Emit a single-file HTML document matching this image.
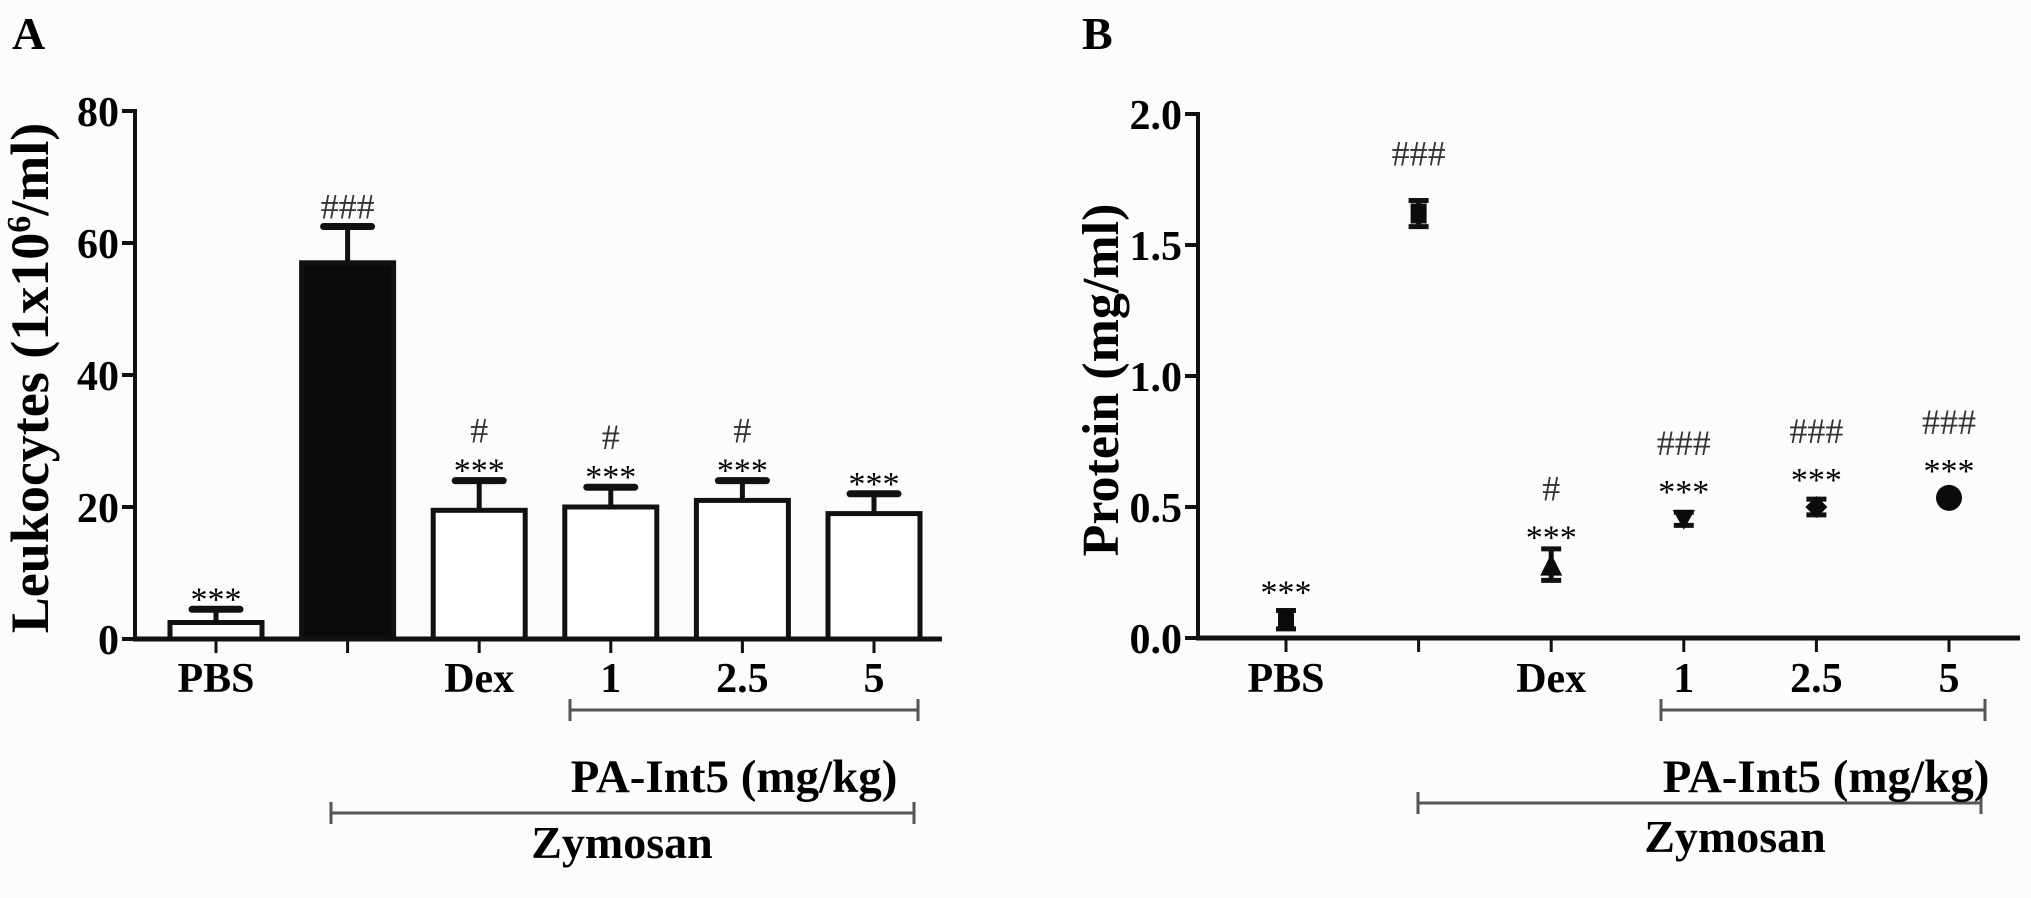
<!DOCTYPE html>
<html><head><meta charset="utf-8"><style>
html,body{margin:0;padding:0;background:#fcfcfc;}
svg{display:block;font-family:"Liberation Serif",serif;}
</style></head><body>
<svg id="fig" width="2031" height="898" viewBox="0 0 2031 898" xmlns="http://www.w3.org/2000/svg">
<rect width="2031" height="898" fill="#fcfcfc"/>
<text x="12" y="49" font-size="46" font-weight="bold">A</text>
<text x="1082" y="49" font-size="46" font-weight="bold">B</text>
<g id="chartA"></g>
<g id="chartB"></g>
</svg>
<script>
const catsA = ["PBS", "", "Dex", "1", "2.5", "5"];
const valsA = [2.5, 57, 19.5, 20, 21, 19];
const errA = [2, 5.5, 4.5, 3, 3, 3];
const starsA = ["***", "", "***", "***", "***", "***"];
const hashA = ["", "###", "#", "#", "#", ""];
const ticksA = [0, 20, 40, 60, 80];

const catsB = ["PBS", "", "Dex", "1", "2.5", "5"];
const valsB = [0.07, 1.62, 0.28, 0.455, 0.50, 0.535];
const errB = [0.035, 0.05, 0.06, 0.025, 0.03, 0.015];
const markersB = ["square", "square", "triangle", "invtriangle", "diamond", "circle"];
const starsB = ["***", "", "***", "***", "***", "***"];
const hashB = ["", "###", "#", "###", "###", "###"];
const ticksB = [0, 0.5, 1.0, 1.5, 2.0];

const NS = "http://www.w3.org/2000/svg";
function mk(parent, tag, attrs, text) {
  const e = document.createElementNS(NS, tag);
  for (const k in attrs) e.setAttribute(k, attrs[k]);
  if (text !== undefined) e.textContent = text;
  parent.appendChild(e);
  return e;
}

// ---------- Chart A ----------
(function(){
  const g = document.getElementById('chartA');
  const x0 = 135, yTop = 111, yBot = 639, xEnd = 942;
  const yScale = v => yBot - (v / 80) * (yBot - yTop);
  const xFirst = 216, step = 131.6;
  const xScale = i => xFirst + i * step;
  const bw = 92;
  let e;
  e = mk(g, 'line', {x1:x0, y1:yTop-2, x2:x0, y2:yBot+2, stroke:'#111', 'stroke-width':4});
  
  
  ticksA.forEach(t => {
    const y = yScale(t);
    e = mk(g, 'line', {x1:x0-13, y1:y, x2:x0, y2:y, stroke:'#111', 'stroke-width':4});
    
    
    e = mk(g, 'text', {x:x0-16, y:y+15, 'font-size':42, 'font-weight':'bold', 'text-anchor':'end'}, String(t));
    
    
  });
  e = mk(g, 'text', {transform:'translate(48,378) rotate(-90)', 'font-size':54, 'font-weight':'bold', 'text-anchor':'middle'});
  
  
  e.innerHTML = 'Leukocytes (1x10<tspan dy="-18" font-size="34">6</tspan><tspan dy="18">/ml)</tspan>';
  valsA.forEach((v, i) => {
    const cx = xScale(i), yv = yScale(v), ye = yScale(v + errA[i]);
    e = mk(g, 'line', {x1:cx, y1:yv, x2:cx, y2:ye, stroke:'#111', 'stroke-width':5});
    
    
    e = mk(g, 'line', {x1:cx-24, y1:ye, x2:cx+24, y2:ye, stroke:'#111', 'stroke-width':7, 'stroke-linecap':'round'});
    
    
    const filled = i === 1;
    e = mk(g, 'rect', {x:cx-bw/2, y:yv, width:bw, height:yBot-yv, fill: filled ? '#0b0b0b' : '#fff', stroke:'#111', 'stroke-width':5});
    
    
    if (starsA[i]) {
      e = mk(g, 'text', {x:cx, y:ye+1, 'font-size':34, 'text-anchor':'middle'}, starsA[i]);
      
      
    }
    if (hashA[i]) {
      const hy = starsA[i] ? ye - 38 : ye - 8;
      e = mk(g, 'text', {x:cx, y:hy, 'font-size':36, 'text-anchor':'middle', fill:'#333'}, hashA[i]);
      
      
    }
    e = mk(g, 'line', {x1:cx, y1:yBot, x2:cx, y2:yBot+14, stroke:'#111', 'stroke-width':3});
    
    
    if (catsA[i]) {
      e = mk(g, 'text', {x:cx, y:692, 'font-size':42, 'font-weight':'bold', 'text-anchor':'middle'}, catsA[i]);
      
      
    }
  });
  e = mk(g, 'line', {x1:x0-2, y1:yBot, x2:xEnd, y2:yBot, stroke:'#111', 'stroke-width':5});
  
  
  const br = (x1, x2, y, name) => {
    e = mk(g, 'path', {d:`M${x1},${y-11}V${y+11}M${x1},${y}H${x2}M${x2},${y-11}V${y+11}`, stroke:'#555', 'stroke-width':3, fill:'none'});
    
    
  };
  br(570, 918, 710, 'pa-int5-bracket-a');
  br(331, 914, 813, 'zymosan-bracket-a');
  e = mk(g, 'text', {x:734, y:792, 'font-size':47, 'font-weight':'bold', 'text-anchor':'middle'}, 'PA-Int5  (mg/kg)');
  
  
  e = mk(g, 'text', {x:622, y:858, 'font-size':46, 'font-weight':'bold', 'text-anchor':'middle'}, 'Zymosan');
  
  
})();

// ---------- Chart B ----------
(function(){
  const g = document.getElementById('chartB');
  const x0 = 1198, yTop = 114, yBot = 638, xEnd = 2020;
  const yScale = v => yBot - (v / 2) * (yBot - yTop);
  const xFirst = 1286, step = 132.6;
  const xScale = i => xFirst + i * step;
  let e;
  e = mk(g, 'line', {x1:x0, y1:yTop-2, x2:x0, y2:yBot+2, stroke:'#111', 'stroke-width':4});
  
  
  ticksB.forEach(t => {
    const y = yScale(t);
    e = mk(g, 'line', {x1:x0-13, y1:y, x2:x0, y2:y, stroke:'#111', 'stroke-width':4});
    
    
    e = mk(g, 'text', {x:x0-16, y:y+15, 'font-size':42, 'font-weight':'bold', 'text-anchor':'end'}, t.toFixed(1));
    
    
  });
  e = mk(g, 'text', {transform:'translate(1118,380) rotate(-90)', 'font-size':52, 'font-weight':'bold', 'text-anchor':'middle'}, 'Protein (mg/ml)');
  
  
  valsB.forEach((v, i) => {
    const cx = xScale(i), yv = yScale(v), yt = yScale(v + errB[i]), yb = yScale(v - errB[i]);
    e = mk(g, 'path', {d:`M${cx},${yt}V${yb}M${cx-10},${yt}H${cx+10}M${cx-10},${yb}H${cx+10}`, stroke:'#111', 'stroke-width':5, fill:'none'});
    
    
    const m = markersB[i], s = 11;
    let d;
    if (m === 'square') d = `M${cx-8},${yv-10}h16v20h-16z`;
    else if (m === 'triangle') d = `M${cx},${yv-s}L${cx+s},${yv+s}L${cx-s},${yv+s}z`;
    else if (m === 'invtriangle') d = `M${cx-s},${yv-s*0.8}L${cx+s},${yv-s*0.8}L${cx},${yv+s}z`;
    else if (m === 'diamond') d = `M${cx},${yv-s}L${cx+s},${yv}L${cx},${yv+s}L${cx-s},${yv}z`;
    if (m === 'circle') e = mk(g, 'circle', {cx:cx, cy:yv, r:13, fill:'#0b0b0b'});
    else e = mk(g, 'path', {d:d, fill:'#0b0b0b'});
    
    
    const top = Math.min(yt, yv - 18);
    if (starsB[i]) {
      e = mk(g, 'text', {x:cx, y:top+2, 'font-size':34, 'text-anchor':'middle'}, starsB[i]);
      
      
    }
    if (hashB[i]) {
      const hy = starsB[i] ? top - 46 : top - 30;
      e = mk(g, 'text', {x:cx, y:hy, 'font-size':36, 'text-anchor':'middle', fill:'#333'}, hashB[i]);
      
      
    }
    e = mk(g, 'line', {x1:cx, y1:yBot, x2:cx, y2:yBot+14, stroke:'#111', 'stroke-width':3});
    
    
    if (catsB[i]) {
      e = mk(g, 'text', {x:cx, y:692, 'font-size':42, 'font-weight':'bold', 'text-anchor':'middle'}, catsB[i]);
      
      
    }
  });
  e = mk(g, 'line', {x1:x0-2, y1:yBot, x2:xEnd, y2:yBot, stroke:'#111', 'stroke-width':5});
  
  
  const br = (x1, x2, y, name) => {
    e = mk(g, 'path', {d:`M${x1},${y-11}V${y+11}M${x1},${y}H${x2}M${x2},${y-11}V${y+11}`, stroke:'#555', 'stroke-width':3, fill:'none'});
    
    
  };
  br(1661, 1985, 710, 'pa-int5-bracket-b');
  br(1418, 1981, 803, 'zymosan-bracket-b');
  e = mk(g, 'text', {x:1826, y:792, 'font-size':47, 'font-weight':'bold', 'text-anchor':'middle'}, 'PA-Int5 (mg/kg)');
  
  
  e = mk(g, 'text', {x:1735, y:852, 'font-size':46, 'font-weight':'bold', 'text-anchor':'middle'}, 'Zymosan');
  
  
})();
</script>
</body></html>
